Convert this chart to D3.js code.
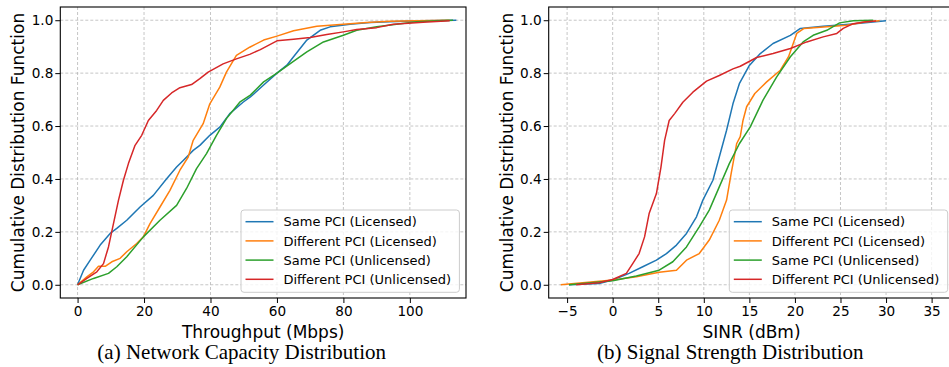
<!DOCTYPE html>
<html><head><meta charset="utf-8">
<script src="https://cdn.jsdelivr.net/npm/d3@7"></script>
<style>body{margin:0;background:#fff}</style>
</head><body><svg id="c" width="949" height="367" xmlns="http://www.w3.org/2000/svg"></svg>
<script>
// ---- data ----
const seriesNames = ["Same PCI (Licensed)", "Different PCI (Licensed)", "Same PCI (Unlicensed)", "Different PCI (Unlicensed)"];
const seriesColors = ["#1f77b4", "#ff7f0e", "#2ca02c", "#d62728"];

const yTicks = [0, 0.2, 0.4, 0.6, 0.8, 1.0];
const xTicksThroughput = [0, 20, 40, 60, 80, 100];
const xTicksSinr = [-5, 0, 5, 10, 15, 20, 25, 30, 35];

// Throughput CDFs [Mbps, CDF]
const thrSameLic = [[0,0],[1.8,0.055],[3.8,0.093],[6.8,0.15],[9.8,0.194],[11.8,0.213],[14.8,0.244],[18.8,0.294],[22.8,0.338],[26.8,0.401],[29.8,0.445],[31.8,0.47],[34.8,0.508],[36.8,0.527],[39.8,0.565],[42.8,0.596],[45.8,0.647],[49.8,0.69],[52,0.71],[56,0.755],[60,0.8],[63,0.83],[65,0.862],[69,0.925],[73,0.962],[76,0.975],[82,0.985],[88,0.991],[96,0.995],[104,0.998],[114,1.0]];
const thrDiffLic = [[0,0],[2.8,0.03],[4.8,0.049],[6.3,0.07],[8.3,0.07],[10.3,0.087],[12.8,0.1],[14.8,0.125],[17.8,0.156],[19.8,0.181],[21.8,0.231],[24.8,0.294],[27.8,0.357],[30.8,0.433],[33.3,0.483],[34.8,0.546],[37.8,0.609],[39.8,0.684],[42.8,0.747],[44.8,0.804],[47.8,0.867],[51.8,0.898],[56,0.925],[60,0.94],[65,0.96],[72,0.977],[80,0.985],[87,0.991],[94,0.996],[102,0.998],[112,1.0]];
const thrSameUnl = [[0,0],[4.8,0.024],[9.3,0.043],[11.8,0.068],[14.8,0.106],[19.8,0.181],[24.8,0.244],[29.8,0.3],[32.8,0.364],[35.8,0.439],[38.8,0.496],[41.8,0.565],[44.8,0.628],[48.8,0.69],[52,0.717],[56,0.767],[60,0.8],[64,0.836],[69,0.88],[74,0.918],[80,0.943],[84,0.962],[90,0.975],[96,0.985],[102,0.994],[108,0.998],[113,1.0]];
const thrDiffUnl = [[0,0],[2.8,0.024],[5.8,0.049],[7.8,0.08],[9.3,0.143],[10.8,0.231],[12.3,0.319],[13.8,0.395],[15.3,0.458],[17.3,0.527],[19.3,0.565],[21.3,0.621],[23.8,0.659],[25.8,0.697],[28.3,0.725],[30.8,0.745],[34.3,0.757],[36.8,0.779],[39.3,0.804],[43.8,0.835],[47.8,0.854],[51.8,0.871],[55,0.889],[60,0.922],[65,0.928],[70,0.935],[75,0.946],[80,0.956],[84,0.965],[90,0.972],[95,0.985],[104,0.992],[112,0.998]];

// SINR CDFs [dBm, CDF]
const sinrSameLic = [[-4.8,0],[-1.5,0.005],[0,0.018],[1.8,0.043],[3.3,0.068],[4.8,0.093],[5.9,0.118],[7.0,0.15],[8.1,0.194],[9.2,0.257],[9.9,0.32],[11,0.395],[11.7,0.483],[12.5,0.584],[13.2,0.684],[13.9,0.76],[15.0,0.829],[16.2,0.874],[17.6,0.912],[19.5,0.943],[20.6,0.969],[23.1,0.977],[26,0.985],[30,0.998]];
const sinrDiffLic = [[-5.7,0],[-3.3,0.008],[0,0.018],[2.6,0.03],[5.1,0.047],[7.0,0.055],[8.1,0.093],[9.5,0.118],[10.6,0.169],[11.7,0.244],[12.5,0.32],[13.0,0.42],[13.6,0.533],[14.0,0.56],[14.3,0.621],[14.7,0.673],[15.6,0.723],[16.9,0.767],[18.4,0.811],[19.3,0.862],[20.2,0.95],[21,0.969],[23.5,0.975],[25.7,0.981],[27.8,0.994],[29.3,0.998]];
const sinrSameUnl = [[-4.8,0],[0,0.015],[2.6,0.033],[5.1,0.055],[6.6,0.087],[8.1,0.143],[9.5,0.219],[10.6,0.282],[11.7,0.37],[12.8,0.458],[13.9,0.533],[15.1,0.597],[16.5,0.698],[18,0.786],[19.5,0.862],[20.9,0.918],[22,0.943],[23.5,0.962],[24.9,0.99],[26.4,0.998],[28.6,1.0]];
const sinrDiffUnl = [[-4,0],[-1.5,0.008],[0,0.02],[1.5,0.043],[2.2,0.08],[2.9,0.118],[3.5,0.181],[4.0,0.269],[4.8,0.345],[5.3,0.445],[5.7,0.546],[6.2,0.621],[6.8,0.647],[7.7,0.69],[8.8,0.728],[10.3,0.77],[11.7,0.791],[13.2,0.816],[14,0.826],[15.8,0.859],[17.6,0.874],[19.5,0.893],[21.3,0.918],[23.1,0.937],[24.6,0.95],[25.3,0.969],[26.4,0.987],[27.8,0.994],[28.9,0.997]];

// ---- layout ----
const svg = d3.select("#c");
const plotTop = 7, plotBottom = 298;
const font = "DejaVu Sans, sans-serif";
const panels = [
  {left: 60.3, right: 466, xDomain: [-5.2, 116.9], xTicks: xTicksThroughput,
   xLabel: "Throughput (Mbps)", caption: "(a) Network Capacity Distribution", captionX: 241.7,
   series: [thrSameLic, thrDiffLic, thrSameUnl, thrDiffUnl], legendX: 241},
  {left: 548.7, right: 954.4, xDomain: [-7.02, 37.5], xTicks: xTicksSinr,
   xLabel: "SINR (dBm)", caption: "(b) Signal Strength Distribution", captionX: 730.3,
   series: [sinrSameLic, sinrDiffLic, sinrSameUnl, sinrDiffUnl], legendX: 729.3}
];

panels.forEach((p, pi) => {
  const x = d3.scaleLinear().domain(p.xDomain).range([p.left, p.right]);
  const y = d3.scaleLinear().domain([-0.05, 1.05]).range([plotBottom, plotTop]);
  const g = svg.append("g");

  // grid
  g.append("g").selectAll("line").data(p.xTicks).join("line")
    .attr("x1", d => x(d)).attr("x2", d => x(d)).attr("y1", plotTop).attr("y2", plotBottom)
    .attr("stroke", "#b8b8b8").attr("stroke-width", 0.8).attr("stroke-dasharray", "3,2");
  g.append("g").selectAll("line").data(yTicks).join("line")
    .attr("x1", p.left).attr("x2", p.right).attr("y1", d => y(d)).attr("y2", d => y(d))
    .attr("stroke", "#b8b8b8").attr("stroke-width", 0.8).attr("stroke-dasharray", "3,2");

  // clip
  const cid = "clip" + pi;
  svg.append("clipPath").attr("id", cid).append("rect")
    .attr("x", p.left).attr("y", plotTop).attr("width", p.right - p.left).attr("height", plotBottom - plotTop);

  const line = d3.line().x(d => x(d[0])).y(d => y(d[1]));
  g.append("g").attr("clip-path", `url(#${cid})`).selectAll("path").data(p.series).join("path")
    .attr("d", d => line(d)).attr("fill", "none")
    .attr("stroke", (d, i) => seriesColors[i]).attr("stroke-width", 1.5)
    .attr("stroke-linejoin", "round");

  // axes
  const xAxis = d3.axisBottom(x).tickValues(p.xTicks).tickSize(5).tickPadding(3.5).tickFormat(d3.format("d"));
  const ax = g.append("g").attr("transform", `translate(0,${plotBottom})`).call(xAxis);
  const yAxis = d3.axisLeft(y).tickValues(yTicks).tickSize(5).tickPadding(2).tickFormat(d3.format(".1f"));
  const ay = g.append("g").attr("transform", `translate(${p.left},0)`).call(yAxis);
  [ax, ay].forEach(a => {
    a.select(".domain").remove();
    a.selectAll(".tick line").attr("stroke", "#000").attr("stroke-width", 1);
    a.selectAll("text").attr("font-family", font).attr("font-size", 13.6).attr("fill", "#000");
  });

  // frame
  g.append("rect").attr("x", p.left).attr("y", plotTop).attr("width", p.right - p.left).attr("height", plotBottom - plotTop)
    .attr("fill", "none").attr("stroke", "#000").attr("stroke-width", 1.1);

  // labels
  g.append("text").attr("x", (p.left + p.right) / 2).attr("y", 337.5).attr("text-anchor", "middle")
    .attr("font-family", font).attr("font-size", 17).text(p.xLabel);
  g.append("text").attr("transform", `translate(${p.left - 36},${(plotTop + plotBottom) / 2}) rotate(-90)`)
    .attr("text-anchor", "middle").attr("font-family", font).attr("font-size", 17).text("Cumulative Distribution Function");
  g.append("text").attr("x", p.captionX).attr("y", 359).attr("text-anchor", "middle")
    .attr("font-family", "Liberation Serif, Times New Roman, serif").attr("font-size", 21).text(p.caption);

  // legend
  const lg = g.append("g");
  lg.append("rect").attr("x", p.legendX).attr("y", 210).attr("width", 218.4).attr("height", 82.3)
    .attr("rx", 3).attr("fill", "#fff").attr("fill-opacity", 0.8).attr("stroke", "#cccccc").attr("stroke-width", 1);
  seriesNames.forEach((name, i) => {
    const cy = 221.7 + i * 19.2;
    lg.append("line").attr("x1", p.legendX + 4.5).attr("x2", p.legendX + 32.5).attr("y1", cy).attr("y2", cy)
      .attr("stroke", seriesColors[i]).attr("stroke-width", 1.5);
    lg.append("text").attr("x", p.legendX + 42.5).attr("y", cy + 4.7).attr("font-family", font)
      .attr("font-size", 13).text(name);
  });
});
</script></body></html>
